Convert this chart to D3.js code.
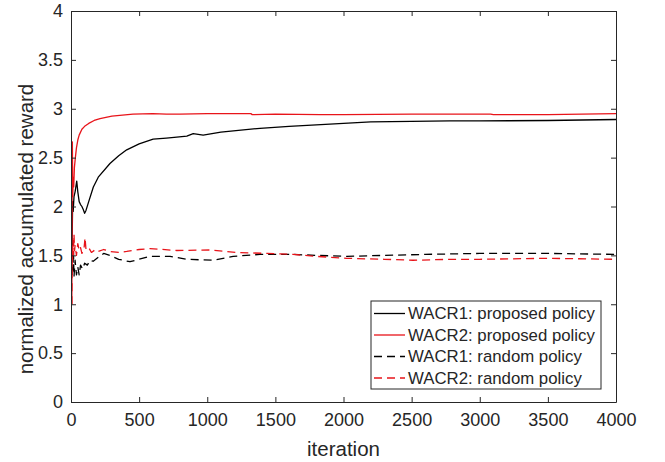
<!DOCTYPE html>
<html>
<head>
<meta charset="utf-8">
<script src="https://cdn.jsdelivr.net/npm/d3@7"></script>
<style>
  html, body { margin: 0; padding: 0; background: #fff; }
  svg { display: block; font-family: "Liberation Sans", Arial, sans-serif; }
</style>
</head>
<body>
<svg id="chart" width="665" height="462"></svg>
<script>
// ---- data ----
const xTicks = [0, 500, 1000, 1500, 2000, 2500, 3000, 3500, 4000];
const yTicks = [0, 0.5, 1, 1.5, 2, 2.5, 3, 3.5, 4];
const seriesNames = ["WACR1: proposed policy", "WACR2: proposed policy", "WACR1: random policy", "WACR2: random policy"];

const wacr1PropIter = [8, 12, 16, 22, 30, 42, 50, 60, 70, 80, 90, 100, 110, 130, 164, 200, 286, 350, 409, 500, 603, 700, 776, 850, 897, 970, 1100, 1387, 1600, 2000, 2200, 2500, 2782, 3000, 3500, 4000];
const wacr1PropVal  = [1.6, 2.05, 1.95, 2.1, 2.15, 2.26, 2.15, 2.05, 2.02, 2.0, 1.97, 1.93, 1.96, 2.05, 2.2, 2.3, 2.44, 2.52, 2.58, 2.64, 2.69, 2.7, 2.71, 2.72, 2.745, 2.73, 2.76, 2.8, 2.82, 2.85, 2.865, 2.87, 2.875, 2.875, 2.88, 2.89];

const wacr2PropIter = [6, 8, 10, 13, 16, 20, 25, 32, 40, 50, 60, 80, 100, 130, 170, 213, 300, 455, 600, 700, 800, 1000, 1320, 1330, 1500, 1830, 2000, 2500, 3080, 3100, 3500, 4000];
const wacr2PropVal  = [1.0, 2.0, 2.66, 2.1, 2.3, 2.2, 2.4, 2.5, 2.6, 2.68, 2.73, 2.79, 2.82, 2.85, 2.88, 2.9, 2.925, 2.945, 2.95, 2.945, 2.945, 2.95, 2.95, 2.94, 2.945, 2.94, 2.94, 2.945, 2.945, 2.94, 2.94, 2.95];

const wacr1RandIter = [8, 11, 14, 18, 22, 30, 40, 50, 60, 70, 85, 100, 120, 140, 163, 200, 240, 286, 350, 433, 500, 580, 727, 849, 1043, 1190, 1387, 1630, 1800, 2023, 2300, 2600, 3000, 3500, 4000];
const wacr1RandVal  = [1.3, 1.62, 1.35, 1.55, 1.28, 1.45, 1.3, 1.38, 1.3, 1.4, 1.36, 1.42, 1.4, 1.45, 1.44, 1.48, 1.52, 1.5, 1.46, 1.435, 1.46, 1.49, 1.49, 1.46, 1.45, 1.49, 1.51, 1.51, 1.5, 1.49, 1.5, 1.51, 1.52, 1.52, 1.51];

const wacr2RandIter = [6, 9, 12, 15, 18, 22, 26, 30, 40, 50, 60, 70, 80, 95, 103, 110, 130, 150, 180, 200, 240, 286, 350, 409, 500, 580, 776, 1020, 1216, 1436, 1630, 1800, 2023, 2300, 2510, 2800, 3000, 3500, 4000];
const wacr2RandVal  = [1.0, 1.6, 1.45, 1.65, 1.5, 1.72, 1.55, 1.6, 1.5, 1.62, 1.55, 1.58, 1.52, 1.56, 1.68, 1.56, 1.58, 1.53, 1.56, 1.54, 1.56, 1.54, 1.53, 1.54, 1.56, 1.57, 1.55, 1.555, 1.53, 1.52, 1.51, 1.49, 1.47, 1.46, 1.45, 1.46, 1.46, 1.47, 1.46];

// ---- layout ----
const svg = d3.select("#chart");
const L = 71, R = 616, T = 11, B = 402;
const x = d3.scaleLinear().domain([0, 4000]).range([L, R]);
const y = d3.scaleLinear().domain([0, 4]).range([B, T]);
const axisColor = "#262626";
const tickFont = 18;

const series = [
  { name: seriesNames[0], it: wacr1PropIter, v: wacr1PropVal, color: "#000000", dash: null },
  { name: seriesNames[1], it: wacr2PropIter, v: wacr2PropVal, color: "#e8141a", dash: null },
  { name: seriesNames[2], it: wacr1RandIter, v: wacr1RandVal, color: "#000000", dash: "8,5" },
  { name: seriesNames[3], it: wacr2RandIter, v: wacr2RandVal, color: "#e8141a", dash: "8,5" }
];

const fmtY = d => d3.format("")(d);

function styleAxis(g) {
  g.selectAll("path").attr("stroke", axisColor).attr("stroke-width", 1);
  g.selectAll("line").attr("stroke", axisColor).attr("stroke-width", 1);
  g.selectAll("text").attr("fill", axisColor).attr("font-size", tickFont)
    .attr("font-family", "Liberation Sans, Arial, sans-serif");
}

// lines (drawn first so axes sit on top)
const clip = svg.append("clipPath").attr("id", "clip").append("rect")
  .attr("x", L).attr("y", T).attr("width", R - L).attr("height", B - T);
const line = d3.line().x(d => x(d[0])).y(d => y(d[1]));
const plot = svg.append("g").attr("clip-path", "url(#clip)");
[series[2], series[3], series[0], series[1]].forEach(s => {
  const pts = s.it.map((t, i) => [t, s.v[i]]);
  plot.append("path").datum(pts)
    .attr("d", line)
    .attr("fill", "none")
    .attr("stroke", s.color)
    .attr("stroke-width", 1.3)
    .attr("stroke-dasharray", s.dash)
    .attr("stroke-linejoin", "round");
});

svg.append("g").attr("transform", `translate(0,${B})`)
  .call(d3.axisBottom(x).tickValues(xTicks).tickFormat(d3.format("d")).tickSizeInner(-5).tickSizeOuter(0).tickPadding(11))
  .call(styleAxis);
svg.append("g").attr("transform", `translate(0,${T})`)
  .call(d3.axisTop(x).tickValues(xTicks).tickFormat("").tickSizeInner(-5).tickSizeOuter(0))
  .call(styleAxis);
svg.append("g").attr("transform", `translate(${L},0)`)
  .call(d3.axisLeft(y).tickValues(yTicks).tickFormat(fmtY).tickSizeInner(-5).tickSizeOuter(0).tickPadding(8))
  .call(styleAxis);
svg.append("g").attr("transform", `translate(${R},0)`)
  .call(d3.axisRight(y).tickValues(yTicks).tickFormat("").tickSizeInner(-5).tickSizeOuter(0))
  .call(styleAxis);

// axis labels
svg.append("text").attr("x", (L + R) / 2).attr("y", 456)
  .attr("text-anchor", "middle").attr("font-size", 20.5).attr("fill", axisColor)
  .text("iteration");
svg.append("text").attr("transform", `translate(33,229) rotate(-90)`)
  .attr("text-anchor", "middle").attr("font-size", 20.5).attr("fill", axisColor)
  .text("normalized accumulated reward");

// legend
const lgX = 371, lgY = 301, lgW = 230, lgH = 88;
const lg = svg.append("g");
lg.append("rect").attr("x", lgX).attr("y", lgY).attr("width", lgW).attr("height", lgH)
  .attr("fill", "#fff").attr("stroke", axisColor).attr("stroke-width", 1);
series.forEach((s, i) => {
  const cy = lgY + 12.5 + i * 21.5;
  lg.append("line").attr("x1", lgX + 3).attr("x2", lgX + 34).attr("y1", cy).attr("y2", cy)
    .attr("stroke", s.color).attr("stroke-width", 1.3).attr("stroke-dasharray", s.dash);
  lg.append("text").attr("x", lgX + 37).attr("y", cy).attr("dy", "0.35em")
    .attr("font-size", 16.8).attr("fill", axisColor).text(s.name);
});
</script>
</body>
</html>
